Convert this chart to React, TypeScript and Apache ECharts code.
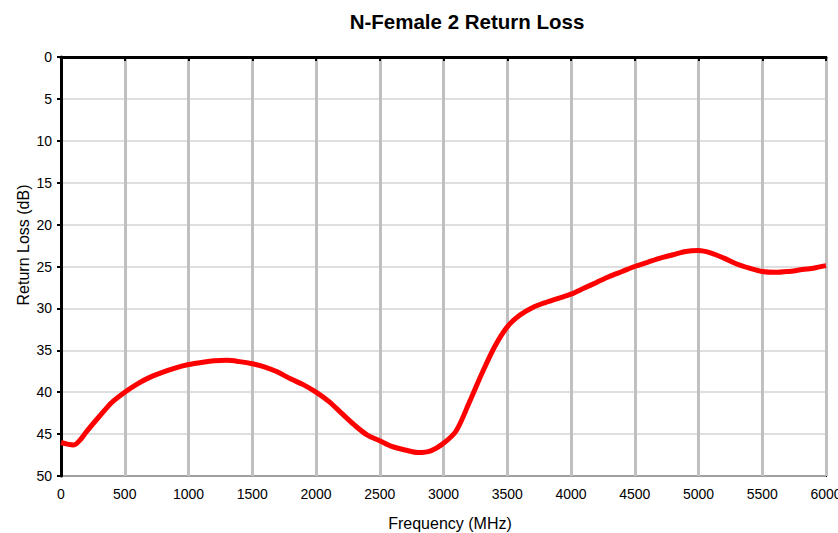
import React, { useEffect, useRef } from "react";
import * as echarts from "echarts";

const frequencies = [
  0, 50, 100, 150, 200, 300, 400, 500, 600, 700, 800, 900, 1000, 1100, 1200, 1300, 1400, 1500,
  1600, 1700, 1800, 1900, 2000, 2100, 2200, 2300, 2400, 2500, 2600, 2700, 2800, 2900, 3000,
  3100, 3200, 3300, 3400, 3500, 3600, 3700, 3800, 3900, 4000, 4100, 4200, 4300, 4400, 4500,
  4600, 4700, 4800, 4900, 5000, 5100, 5200, 5300, 5400, 5500, 5600, 5700, 5800, 5900, 6000,
];
const returnLoss = [
  46.0, 46.2, 46.3, 45.7, 44.7, 42.9, 41.2, 40.0, 39.0, 38.2, 37.6, 37.1, 36.7, 36.45, 36.25,
  36.2, 36.35, 36.6, 37.0, 37.6, 38.4, 39.1, 40.0, 41.1, 42.5, 43.9, 45.1, 45.8, 46.5, 46.9,
  47.2, 47.0, 46.1, 44.6, 41.3, 37.8, 34.6, 32.2, 30.8, 29.9, 29.3, 28.8, 28.3, 27.6, 26.9,
  26.2, 25.6, 25.0, 24.5, 24.0, 23.6, 23.2, 23.1, 23.4, 24.0, 24.7, 25.2, 25.6, 25.7, 25.6,
  25.4, 25.2, 24.9,
];

const title = "N-Female 2 Return Loss";
const xName = "Frequency (MHz)";
const yName = "Return Loss (dB)";

export default function App() {
  const ref = useRef<HTMLDivElement>(null);
  useEffect(() => {
    if (!ref.current) return;
    const chart = echarts.init(ref.current, null, { renderer: "svg" });
    const font = "Liberation Sans, Arial, sans-serif";
    chart.setOption({
      animation: false,
      backgroundColor: "#fff",
      title: {
        text: title,
        left: 462,
        textAlign: "center",
        top: 6,
        textStyle: { fontFamily: font, fontSize: 20.5, fontWeight: "bold", color: "#000" },
      },
      graphic: [
        {
          type: "text",
          x: 450,
          y: 523,
          style: {
            text: xName,
            fontFamily: font,
            fontSize: 16,
            fill: "#000",
            textAlign: "center",
            textVerticalAlign: "middle",
          },
        },
        {
          type: "text",
          x: 23,
          y: 245,
          rotation: Math.PI / 2,
          style: {
            text: yName,
            fontFamily: font,
            fontSize: 16,
            fill: "#000",
            textAlign: "center",
            textVerticalAlign: "middle",
          },
        },
      ],
      grid: {
        left: 61,
        top: 57,
        right: 12,
        bottom: 57,
        outerBoundsMode: "none",
        containLabel: false,
        show: true,
        borderColor: "#000",
        borderWidth: 2,
        backgroundColor: "transparent",
      },
      xAxis: {
        type: "value",
        min: 0,
        max: 6000,
        interval: 500,
        axisLine: { show: true, lineStyle: { color: "#000", width: 3 } },
        axisTick: { show: true, length: 4, lineStyle: { color: "#000", width: 2 } },
        axisLabel: {
          fontFamily: font,
          fontSize: 14,
          color: "#000",
          margin: 11,
          formatter: (v: number) => String(v),
        },
        splitLine: { show: true, lineStyle: { color: "#c0c0c0", width: 3 } },
      },
      yAxis: {
        type: "value",
        inverse: true,
        min: 0,
        max: 50,
        interval: 5,
        axisLine: { show: true, lineStyle: { color: "#000", width: 3 } },
        axisTick: { show: true, length: 4, lineStyle: { color: "#000", width: 2 } },
        axisLabel: {
          fontFamily: font,
          fontSize: 14,
          color: "#000",
          margin: 9,
          formatter: (v: number) => String(v),
        },
        splitLine: { show: true, lineStyle: { color: "#d4d4d4", width: 1.5 } },
      },
      series: [
        {
          type: "line",
          data: frequencies.map((f, i) => [f, returnLoss[i]]),
          smooth: 0.3,
          showSymbol: false,
          symbol: "none",
          lineStyle: { color: "#ff0000", width: 5 },
        },
      ],
    });
    return () => chart.dispose();
  }, []);
  return <div ref={ref} style={{ width: 838, height: 533, position: "absolute", left: 0, top: 0 }} />;
}
